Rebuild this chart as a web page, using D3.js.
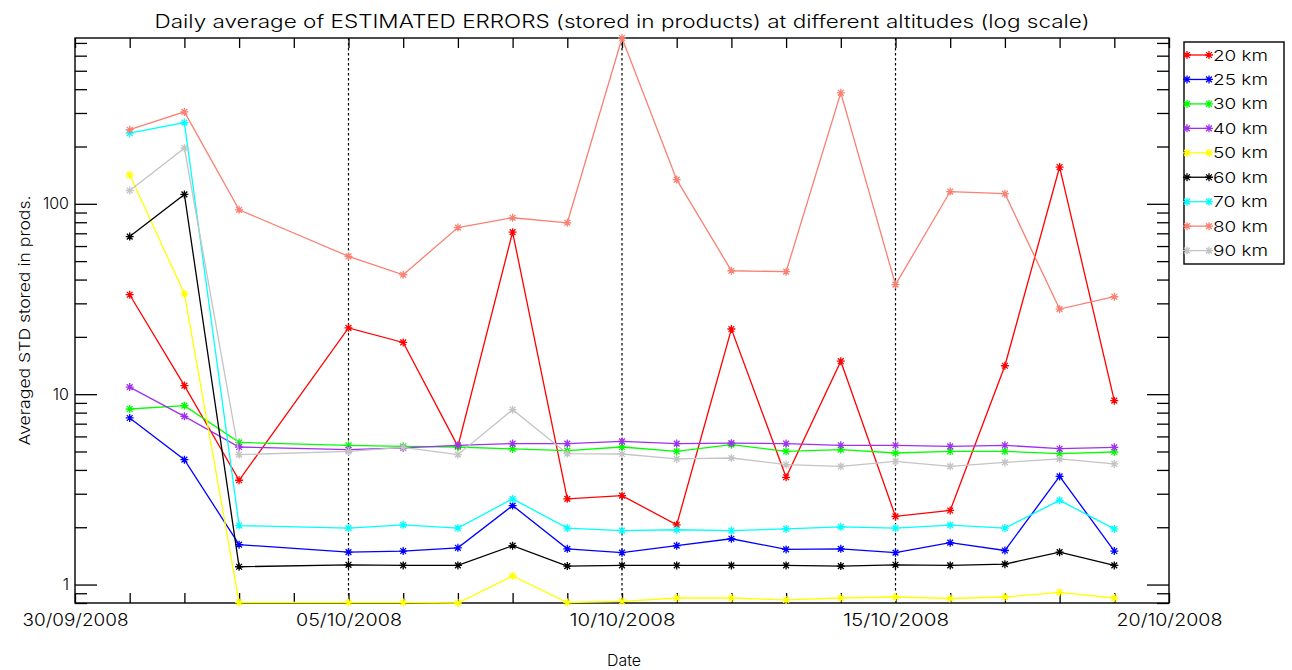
<!DOCTYPE html>
<html>
<head>
<meta charset="utf-8">
<script src="https://cdn.jsdelivr.net/npm/d3@7"></script>
<style>
  html, body { margin: 0; padding: 0; background: #fff; }
  svg { display: block; }
  text { font-family: "Inter", "Liberation Sans", "DejaVu Sans", sans-serif; font-weight: 300; fill: #000; }
</style>
</head>
<body>
<svg id="chart" width="1292" height="670"></svg>
<script>
// Observation days (04/10 has no data)
const dates = ["2008-10-01","2008-10-02","2008-10-03","2008-10-05","2008-10-06","2008-10-07",
               "2008-10-08","2008-10-09","2008-10-10","2008-10-11","2008-10-12","2008-10-13",
               "2008-10-14","2008-10-15","2008-10-16","2008-10-17","2008-10-18","2008-10-19"];

// Daily averaged STD per altitude
const alt20 = [33.3, 11.1, 3.53, 22.3, 18.7, 5.32, 71, 2.82, 2.93, 2.06, 22.0, 3.66, 14.9, 2.28, 2.45, 14.1, 156, 9.25];
const alt25 = [7.50, 4.53, 1.62, 1.48, 1.50, 1.56, 2.60, 1.54, 1.47, 1.60, 1.74, 1.53, 1.54, 1.47, 1.66, 1.51, 3.70, 1.50];
const alt30 = [8.36, 8.70, 5.58, 5.39, 5.32, 5.28, 5.16, 5.05, 5.28, 5.01, 5.43, 5.01, 5.11, 4.91, 5.01, 5.01, 4.87, 4.97];
const alt40 = [10.9, 7.65, 5.28, 5.11, 5.22, 5.39, 5.50, 5.50, 5.65, 5.50, 5.53, 5.50, 5.39, 5.39, 5.32, 5.39, 5.17, 5.26];
const alt50 = [142, 33.7, 0.805, 0.805, 0.805, 0.80, 1.11, 0.805, 0.815, 0.85, 0.85, 0.83, 0.85, 0.86, 0.845, 0.86, 0.91, 0.85];
const alt60 = [67.3, 112, 1.24, 1.27, 1.26, 1.26, 1.60, 1.25, 1.26, 1.26, 1.26, 1.26, 1.25, 1.27, 1.26, 1.28, 1.48, 1.26];
const alt70 = [235, 267, 2.04, 1.98, 2.06, 1.98, 2.82, 1.98, 1.92, 1.94, 1.92, 1.96, 2.01, 1.98, 2.05, 1.98, 2.77, 1.96];
const alt80 = [245, 304, 93, 53, 42.4, 75, 84.5, 79.5, 743, 134, 44.5, 44, 383, 37.6, 116, 113, 28, 32.5];
const alt90 = [117.5, 196, 4.81, 5.01, 5.26, 4.81, 8.29, 4.87, 4.85, 4.57, 4.62, 4.27, 4.18, 4.44, 4.18, 4.38, 4.57, 4.30];

const seriesLabels = ["20 km","25 km","30 km","40 km","50 km","60 km","70 km","80 km","90 km"];
const seriesColors = ["#ff0000","#0000ff","#00ff00","#a030f0","#ffff00","#000000","#00ffff","#fa8072","#c4c4c4"];
const seriesValues = [alt20, alt25, alt30, alt40, alt50, alt60, alt70, alt80, alt90];

// Axis range, labelled days and the dotted reference days
const xStart = "2008-09-30", xEnd = "2008-10-20";
const labelledDays = ["2008-09-30","2008-10-05","2008-10-10","2008-10-15","2008-10-20"];
const referenceDays = ["2008-10-05","2008-10-10","2008-10-15"];
const yMajorTicks = [1, 10, 100];

const titleText = "Daily average of ESTIMATED ERRORS (stored in products) at different altitudes (log scale)";
const xTitle = "Date";
const yTitle = "Averaged STD stored in prods.";

const parse = d3.utcParse("%Y-%m-%d");
const fmt = d3.utcFormat("%d/%m/%Y");

const svg = d3.select("#chart");
const L = 75, R = 1169, T = 38, B = 603;

const x = d3.scaleUtc().domain([parse(xStart), parse(xEnd)]).range([L, R]);
const allVals = seriesValues.flat();
const y = d3.scaleLog().domain(d3.extent(allVals)).range([B, T]);

const days = d3.utcDay.range(parse(xStart), d3.utcDay.offset(parse(xEnd), 1));
const labelSet = new Set(labelledDays.map(s => +parse(s)));

// Frame
svg.append("rect").attr("x", L).attr("y", T).attr("width", R - L).attr("height", B - T)
  .attr("fill", "none").attr("stroke", "#000").attr("stroke-width", 1.4);

// Bottom axis with a tick every day
const gx = svg.append("g").attr("transform", `translate(0,${B})`)
  .call(d3.axisBottom(x).tickValues(days).tickSize(-10).tickPadding(11)
    .tickFormat(d => labelSet.has(+d) ? fmt(d) : ""));
gx.selectAll("text").attr("font-size", 17).each(function () {
  const t = d3.select(this);
  if (t.text()) t.attr("textLength", 106).attr("lengthAdjust", "spacingAndGlyphs");
});
// Top axis, ticks only
svg.append("g").attr("transform", `translate(0,${T})`)
  .call(d3.axisTop(x).tickValues(days).tickSize(-10).tickFormat(""));

// Left / right log axes, major and minor ticks
const minorTicks = y.ticks().filter(v => !yMajorTicks.includes(v));
const gyl = svg.append("g").attr("transform", `translate(${L},0)`)
  .call(d3.axisLeft(y).tickValues(yMajorTicks).tickSize(-22).tickPadding(6).tickFormat(d3.format("d")));
gyl.selectAll("text").attr("font-size", 16);
svg.append("g").attr("transform", `translate(${L},0)`)
  .call(d3.axisLeft(y).tickValues(minorTicks).tickSize(-12).tickFormat(""));
svg.append("g").attr("transform", `translate(${R},0)`)
  .call(d3.axisRight(y).tickValues(yMajorTicks).tickSize(-22).tickFormat(""));
svg.append("g").attr("transform", `translate(${R},0)`)
  .call(d3.axisRight(y).tickValues(minorTicks).tickSize(-12).tickFormat(""));

svg.selectAll(".domain").remove();
svg.selectAll(".tick line").attr("stroke", "#000").attr("stroke-width", 1.3);
svg.selectAll(".tick text").attr("font-family", null);

// Dotted reference lines
svg.append("g").selectAll("line").data(referenceDays).join("line")
  .attr("x1", d => x(parse(d))).attr("x2", d => x(parse(d)))
  .attr("y1", T).attr("y2", B)
  .attr("stroke", "#000").attr("stroke-width", 1.2).attr("stroke-dasharray", "2.5,2.5");

// Asterisk marker (plus and cross)
function asterisk(r) {
  const d = r * 0.72;
  return `M${-r},0H${r}M0,${-r}V${r}M${-d},${-d}L${d},${d}M${-d},${d}L${d},${-d}`;
}

const line = d3.line().x(d => x(d.date)).y(d => y(d.v));
const plot = svg.append("g");
seriesValues.forEach((vals, i) => {
  const pts = vals.map((v, j) => ({ date: parse(dates[j]), v }));
  const g = plot.append("g");
  g.append("path").datum(pts).attr("d", line)
    .attr("fill", "none").attr("stroke", seriesColors[i]).attr("stroke-width", 1.3);
  g.selectAll("path.m").data(pts).join("path").attr("class", "m")
    .attr("transform", d => `translate(${x(d.date)},${y(d.v)})`)
    .attr("d", asterisk(4)).attr("fill", "none")
    .attr("stroke", seriesColors[i]).attr("stroke-width", 1.3);
});

// Title and axis titles
svg.append("text").attr("x", (L + R) / 2).attr("y", 28).attr("text-anchor", "middle")
  .attr("font-size", 18).attr("textLength", 935).attr("lengthAdjust", "spacingAndGlyphs")
  .text(titleText);
svg.append("text").attr("x", 624).attr("y", 666).attr("text-anchor", "middle")
  .attr("font-size", 16).attr("textLength", 34).attr("lengthAdjust", "spacingAndGlyphs")
  .text(xTitle);
svg.append("text").attr("transform", `translate(30,${(T + B) / 2}) rotate(-90)`)
  .attr("text-anchor", "middle").attr("font-size", 15)
  .attr("textLength", 250).attr("lengthAdjust", "spacingAndGlyphs")
  .text(yTitle);

// Legend
const lg = svg.append("g");
lg.append("rect").attr("x", 1184).attr("y", 42).attr("width", 100).attr("height", 222)
  .attr("fill", "#fff").attr("stroke", "#000").attr("stroke-width", 1.4);
seriesLabels.forEach((lab, i) => {
  const cy = 55 + i * 24.45;
  const row = lg.append("g");
  row.append("line").attr("x1", 1187).attr("x2", 1209).attr("y1", cy).attr("y2", cy)
    .attr("stroke", seriesColors[i]).attr("stroke-width", 1.3);
  [1187, 1209].forEach(mx => row.append("path").attr("transform", `translate(${mx},${cy})`)
    .attr("d", asterisk(4)).attr("fill", "none").attr("stroke", seriesColors[i]).attr("stroke-width", 1.3));
  row.append("text").attr("x", 1213).attr("y", cy + 5.5).attr("font-size", 15)
    .attr("textLength", 55).attr("lengthAdjust", "spacingAndGlyphs").text(lab);
});
</script>
</body>
</html>
